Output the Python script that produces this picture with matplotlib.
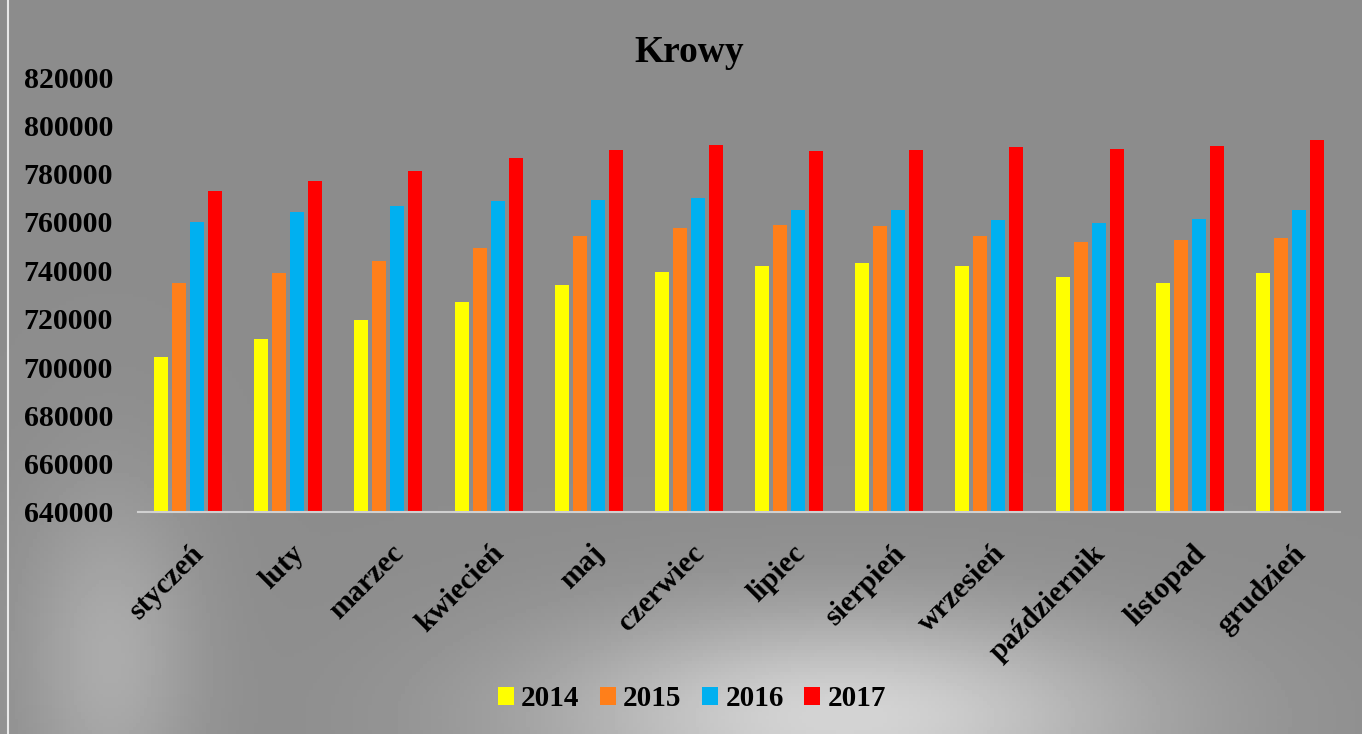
import matplotlib
matplotlib.use('Agg')
import matplotlib.pyplot as plt
import numpy as np

months = ['styczeń', 'luty', 'marzec', 'kwiecień', 'maj', 'czerwiec',
          'lipiec', 'sierpień', 'wrzesień', 'październik', 'listopad', 'grudzień']
years = ['2014', '2015', '2016', '2017']
v2014 = [704000, 711600, 719500, 726900, 733800, 739200,
         741800, 742900, 741800, 737100, 734600, 739000]
v2015 = [734900, 738900, 743700, 749400, 754200, 757700,
         758600, 758200, 754200, 751900, 752400, 753400]
v2016 = [760100, 764200, 766600, 768600, 769100, 770000,
         765000, 765000, 760800, 759500, 761100, 764800]
v2017 = [772800, 776800, 781200, 786400, 789800, 791900,
         789500, 789800, 790900, 790200, 791300, 794000]
colors = ['#FFFF00', '#FF7F1A', '#00B0F0', '#FF0000']

plt.rcParams['font.family'] = ['Liberation Serif', 'DejaVu Serif']
plt.rcParams['font.weight'] = 'bold'

fig = plt.figure(figsize=(13.62, 7.34), dpi=100)
fig.patch.set_facecolor('#8e8e92')

# soft grey background in place of the photo
bg = fig.add_axes([0, 0, 1, 1], zorder=-10)
yy, xx = np.mgrid[0:1:200j, 0:1:370j]
shade = 0.55 + 0.28 * np.exp(-((xx - 0.62) ** 2 / 0.05 + (yy - 0.02) ** 2 / 0.02)) \
    + 0.12 * np.exp(-((xx - 0.08) ** 2 / 0.004 + (yy - 0.1) ** 2 / 0.05))
bg.imshow(shade, cmap='gray', vmin=0, vmax=1, aspect='auto', origin='lower',
          extent=[0, 1, 0, 1])
bg.axis('off')
bg.plot([0.006, 0.006], [0, 1], color='white', lw=1.5, alpha=0.8)

ax = fig.add_axes([138 / 1362, 1 - 512 / 734, (1340 - 138) / 1362, (512 - 77) / 734])
ax.set_facecolor('none')

x = np.arange(len(months))
w = 0.14
step = 0.18
for i, (vals, c, lab) in enumerate(zip([v2014, v2015, v2016, v2017], colors, years)):
    ax.bar(x + (i - 1.5) * step, vals, width=w, color=c, label=lab)

ax.set_xlim(-0.5, len(months) - 0.5)
ax.set_ylim(640000, 820000)
ax.set_yticks(range(640000, 820001, 20000))
ax.tick_params(axis='y', length=0, pad=18, labelsize=21.5)
ax.tick_params(axis='x', length=0, pad=20)
ax.set_xticks(x + 0.02)
ax.set_xticklabels(months, rotation=45, ha='right', va='top',
                   rotation_mode='anchor', fontsize=21.5, fontweight='bold')
for lab in ax.get_yticklabels():
    lab.set_fontweight('bold')
for s in ['top', 'right', 'left']:
    ax.spines[s].set_visible(False)
ax.spines['bottom'].set_color('#d0d0d0')
ax.spines['bottom'].set_linewidth(1.5)

fig.text(0.506, 1 - 53 / 734, 'Krowy', ha='center', va='center',
         fontsize=27, fontweight='bold')

fig.legend(loc='center', bbox_to_anchor=(0.508, 1 - 699 / 734), ncol=4,
           frameon=False, fontsize=21, handlelength=0.55, handleheight=0.55,
           handletextpad=0.25, columnspacing=0.7)

fig.savefig('out.png', dpi=100)
